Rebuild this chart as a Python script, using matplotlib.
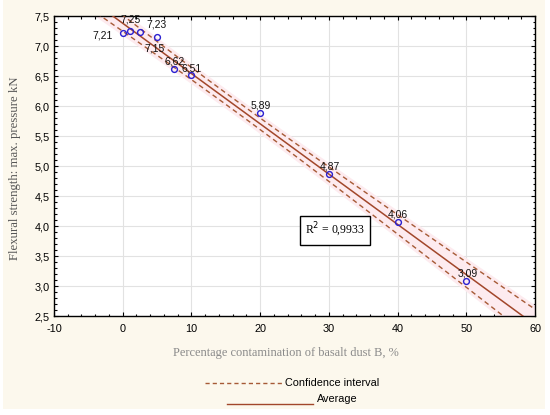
import matplotlib
matplotlib.use("Agg")
import matplotlib.pyplot as plt
from matplotlib.patches import Rectangle
from matplotlib.ticker import MultipleLocator, FuncFormatter
import numpy as np

plt.rcParams["axes.unicode_minus"] = False

# measured points
dust_pct = [0, 1, 2.5, 5, 7.5, 10, 20, 30, 40, 50]
strength = [7.21, 7.25, 7.23, 7.15, 6.62, 6.51, 5.89, 4.87, 4.06, 3.09]
point_labels = ["7,21", "7,25", "7,23", "7,15", "6,62", "6,51", "5,89", "4,87", "4,06", "3,09"]
r2_text = "R$^2$ = 0,9933"

# label offsets in points (style only)
label_offsets = [(-14.5, -1.5), (0.5, 8.4), (12, 5.5), (-1.5, -8.1), (0.5, 5.3),
                 (0, 5), (0.5, 5), (0.5, 5.3), (0.5, 6), (1, 4.8)]

x = np.array(dust_pct)
y = np.array(strength)
n = len(x)
slope, intercept = np.polyfit(x, y, 1)
resid = y - (slope * x + intercept)
s = np.sqrt(np.sum(resid ** 2) / (n - 2))
sxx = np.sum((x - x.mean()) ** 2)
t_crit = 2.306  # t(0.975, 8)

xx = np.linspace(-10, 60, 300)
yy = slope * xx + intercept
half = t_crit * s * np.sqrt(1 / n + (xx - x.mean()) ** 2 / sxx)

line_col = "#a2472b"
dash_col = "#a65a36"

fig = plt.figure(figsize=(5.5, 4.15), dpi=100, facecolor="white")
fig.patches.append(Rectangle((3 / 550, 1 - 409 / 415), 542 / 550, 409 / 415,
                             transform=fig.transFigure, facecolor="#fcf8ed",
                             edgecolor="none", zorder=-10))
ax = fig.add_axes([54 / 550, 1 - 316 / 415, 481 / 550, 300 / 415])
ax.set_facecolor("white")

ax.fill_between(xx, yy - half - 0.07, yy + half + 0.07, color="#fdebef", lw=0, zorder=1)
ax.plot(xx, yy, color=line_col, lw=1.1, zorder=3)
ax.plot(xx, yy + half, color=dash_col, lw=1.0, ls=(0, (3.5, 2.5)), zorder=3)
ax.plot(xx, yy - half, color=dash_col, lw=1.0, ls=(0, (3.5, 2.5)), zorder=3)
ax.plot(x, y, "o", mfc="none", mec="#2a1fd0", mew=1.0, ms=4.2, zorder=4)

for xi, yi, lab, off in zip(x, y, point_labels, label_offsets):
    ax.annotate(lab, (xi, yi), xytext=off, textcoords="offset points",
                ha="center", va="center", fontsize=7.5,
                family="Liberation Sans", color="#111111", zorder=5)

ax.text(30.9, 3.93, r2_text, ha="center", va="center", fontsize=8.5,
        family="Liberation Serif", zorder=6,
        bbox=dict(boxstyle="square,pad=0.45", fc="white", ec="black", lw=1))

ax.set_xlim(-10, 60)
ax.set_ylim(2.5, 7.5)
ax.xaxis.set_major_locator(MultipleLocator(10))
ax.xaxis.set_minor_locator(MultipleLocator(2))
ax.yaxis.set_major_locator(MultipleLocator(0.5))
ax.yaxis.set_minor_locator(MultipleLocator(0.1))
ax.yaxis.set_major_formatter(FuncFormatter(lambda v, p: f"{v:.1f}".replace(".", ",")))
ax.tick_params(which="both", direction="in", top=True, right=True,
               labelsize=7.8, colors="black", width=0.8)
ax.tick_params(which="major", length=3)
ax.tick_params(which="minor", length=1.8)
for lab in ax.get_xticklabels() + ax.get_yticklabels():
    lab.set_family("Liberation Sans")
ax.tick_params(axis="x", pad=6)
ax.tick_params(axis="y", pad=3)
ax.grid(True, which="major", color="#e2e2e2", lw=0.8, zorder=0)
ax.set_axisbelow(True)
for sp in ax.spines.values():
    sp.set_linewidth(1.0)
    sp.set_color("black")

fig.text(286 / 550, 1 - 353 / 415, "Percentage contamination of basalt dust B, %",
         ha="center", va="center", fontsize=8.9, family="Liberation Serif", color="#8a8a8a")
fig.text(15 / 550, 1 - 168 / 415, "Flexural strength: max. pressure kN", rotation=90,
         ha="center", va="center", fontsize=9.2, family="Liberation Serif", color="#555555")

# legend drawn below the plot
fig.add_artist(plt.Line2D([205 / 550, 282 / 550], [1 - 383 / 415] * 2,
                          color=dash_col, lw=1.0, ls=(0, (3, 2.2))))
fig.text(285 / 550, 1 - 383 / 415, "Confidence interval", ha="left", va="center",
         fontsize=7.8, family="Liberation Sans")
fig.add_artist(plt.Line2D([227 / 550, 313 / 550], [1 - 404 / 415] * 2,
                          color=line_col, lw=1.0))
fig.text(317 / 550, 1 - 399 / 415, "Average", ha="left", va="center",
         fontsize=7.8, family="Liberation Sans")

fig.savefig("out.png", dpi=100, facecolor=fig.get_facecolor())
